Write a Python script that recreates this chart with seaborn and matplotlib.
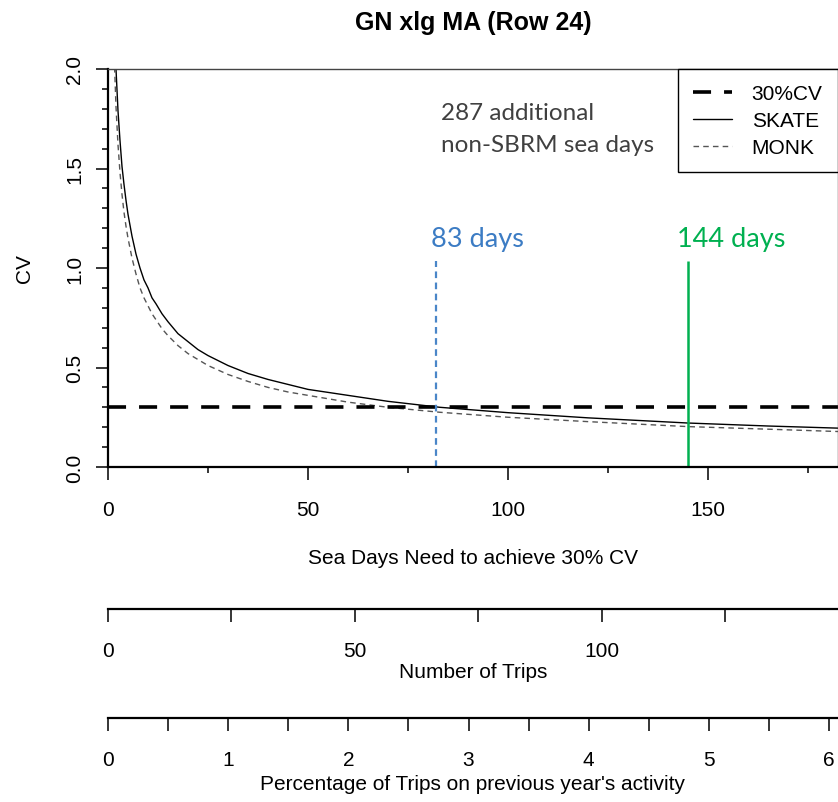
"""
CV vs sea days chart (GN xlg MA, Row 24) with trips / percentage scales below
"""

import numpy as np
import pandas as pd
import matplotlib
matplotlib.use("Agg")
import matplotlib.pyplot as plt
import seaborn as sns
from matplotlib.ticker import MultipleLocator
from matplotlib.lines import Line2D

# values
days = [1, 1.5, 2, 2.5, 3, 3.5, 4, 4.5, 5, 6, 7, 8, 9, 10, 11, 12, 13.5, 15, 17.5, 20,
        22.5, 25, 30, 35, 40, 45, 50, 60, 70, 83, 100, 120, 145, 165, 183]
cv_skate = [2.83, 2.31, 2.00, 1.79, 1.64, 1.51, 1.42, 1.34, 1.27, 1.16, 1.07, 1.00, 0.94, 0.90,
            0.85, 0.82, 0.77, 0.73, 0.67, 0.63, 0.59, 0.56, 0.51, 0.47, 0.44, 0.415, 0.39, 0.36,
            0.33, 0.30, 0.273, 0.247, 0.221, 0.206, 0.195]
cv_monk = [2.56, 2.09, 1.81, 1.62, 1.48, 1.37, 1.28, 1.21, 1.15, 1.05, 0.97, 0.90, 0.85, 0.81,
           0.77, 0.74, 0.695, 0.66, 0.61, 0.57, 0.54, 0.51, 0.465, 0.43, 0.40, 0.377, 0.36, 0.326,
           0.30, 0.275, 0.25, 0.228, 0.203, 0.19, 0.178]
target_cv = 0.3

marker_days = [82, 145]
marker_labels = ["83 days", "144 days"]
marker_top = 1.035
note_text = "287 additional\nnon-SBRM sea days"

# axis ranges for the three scales
max_days = 182.4
max_trips = 147.7
max_pct = 6.07
trip_labels = ["0", "", "50", "", "100", ""]
pct_labels = ["0", "", "1", "", "2", "", "3", "", "4", "", "5", "", "6"]

df = pd.DataFrame({
    "days": days * 2,
    "cv": cv_skate + cv_monk,
    "species": ["SKATE"] * len(days) + ["MONK"] * len(days),
})

sns.set_style("white")
plt.rcParams['font.family'] = ['Liberation Sans', 'DejaVu Sans']
plt.rcParams['font.size'] = 15
for key in ["text.color", "axes.labelcolor", "xtick.color", "ytick.color"]:
    plt.rcParams[key] = "black"

W, H = 838, 803
fig = plt.figure(figsize=(W / 100, H / 100), dpi=100)


def box(l, t, r, b):
    return [l / W, 1 - b / H, (r - l) / W, (b - t) / H]


ax = fig.add_axes(box(108, 70, 837.5, 468))

sns.lineplot(data=df, x="days", y="cv", hue="species", style="species",
             palette={"SKATE": "black", "MONK": "#555555"},
             dashes={"SKATE": "", "MONK": (4, 3)}, linewidth=1.0,
             legend=False, sort=False, ax=ax)

ax.axhline(target_cv, color="black", lw=2.6, dashes=(5, 3.6))

ax.vlines(marker_days[0], 0, marker_top, color="#4A86C8", lw=1.6, linestyles=(0, (3, 2)))
ax.vlines(marker_days[1], 0, marker_top, color="#00B050", lw=1.8)
ax.text(80.8, 1.15, marker_labels[0], color="#3C7CC4", family="Lato", fontsize=19.5,
        ha="left", va="center")
ax.text(142.2, 1.15, marker_labels[1], color="#00B050", family="Lato", fontsize=19.5,
        ha="left", va="center")
ax.text(83.3, 1.70, note_text, color="#404040", family="Lato", fontsize=17.5,
        ha="left", va="center", linespacing=1.62)

ax.set_xlim(0, max_days)
ax.set_ylim(0, 2.0)
ax.xaxis.set_major_locator(MultipleLocator(50))
ax.xaxis.set_minor_locator(MultipleLocator(25))
ax.yaxis.set_major_locator(MultipleLocator(0.5))
ax.yaxis.set_minor_locator(MultipleLocator(0.1))
ax.yaxis.set_major_formatter(matplotlib.ticker.FormatStrFormatter("%.1f"))
ax.tick_params(axis="both", which="major", direction="out", length=9, width=1.1,
               color="black", labelsize=15, bottom=True, left=True)
ax.tick_params(axis="both", which="minor", direction="out", length=4.5, width=1.1,
               color="black", bottom=True, left=True)
ax.tick_params(axis="x", which="major", pad=14.5)
ax.tick_params(axis="y", which="major", pad=8, labelrotation=90)
for lab in ax.get_yticklabels():
    lab.set_va("center")

for side in ["top", "right"]:
    ax.spines[side].set_color("#444444")
    ax.spines[side].set_linewidth(1.0)
for side in ["left", "bottom"]:
    ax.spines[side].set_color("black")
    ax.spines[side].set_linewidth(1.6)

ax.set_xlabel("Sea Days Need to achieve 30% CV", fontsize=15)
ax.xaxis.label.set_va("center")
ax.xaxis.set_label_coords(0.5, (468 - 559) / 398)
ax.set_ylabel("CV", fontsize=15)
ax.yaxis.label.set_va("center")
ax.yaxis.set_label_coords((24 - 108) / 729.5, 0.5)

handles = [
    Line2D([], [], color="black", lw=2.6, dashes=(5, 3.6)),
    Line2D([], [], color="black", lw=1.0),
    Line2D([], [], color="#555555", lw=1.0, dashes=(4, 3)),
]
leg = ax.legend(handles, ["30%CV", "SKATE", "MONK"], loc="upper right",
                bbox_to_anchor=(1, 1), borderaxespad=0, frameon=True, fancybox=False,
                edgecolor="black", framealpha=1, handlelength=1.85, handletextpad=0.95,
                labelspacing=0.38, borderpad=0.72, fontsize=15)
leg.get_frame().set_linewidth(1.0)


def extra_scale(y_line, xmax, step, labels, title, y_title):
    a = fig.add_axes(box(108, y_line - 1, 837.5, y_line))
    a.set_facecolor("none")
    for side in ["top", "left", "right"]:
        a.spines[side].set_visible(False)
    a.spines["bottom"].set_linewidth(1.6)
    a.spines["bottom"].set_color("black")
    a.set_xlim(0, xmax)
    a.set_yticks([])
    ticks = np.arange(len(labels)) * step
    a.set_xticks(ticks)
    a.set_xticklabels(labels)
    a.tick_params(axis="x", direction="out", length=9, width=1.1, color="black",
                  labelsize=15, pad=14, bottom=True)
    a.set_xlabel(title, fontsize=15)
    a.xaxis.label.set_va("center")
    a.xaxis.set_label_coords(0.5, -(y_title - y_line))
    return a


ax_trips = extra_scale(610, max_trips, 25, trip_labels, "Number of Trips", 673)
ax_pct = extra_scale(719, max_pct, 0.5, pct_labels,
                     "Percentage of Trips on previous year's activity", 785)

fig.text(473 / W, 1 - 23 / H, "GN xlg MA (Row 24)", ha="center", va="center",
         fontsize=18, fontweight="bold")

fig.savefig("out.png", dpi=100)
